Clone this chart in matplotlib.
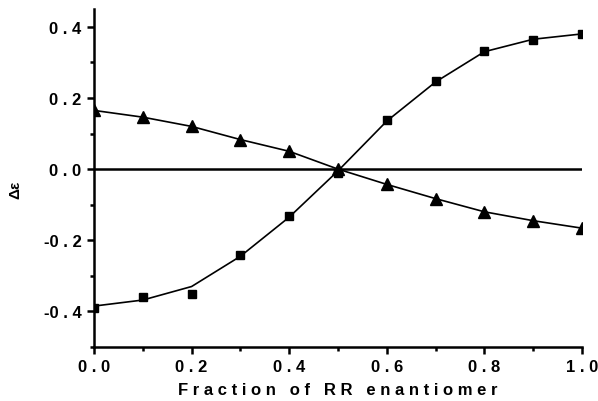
import matplotlib
matplotlib.use("Agg")
import matplotlib.pyplot as plt
from matplotlib.ticker import MultipleLocator, FixedLocator

x = [0.0, 0.1, 0.2, 0.3, 0.4, 0.5, 0.6, 0.7, 0.8, 0.9, 1.0]
squares = [-0.39, -0.36, -0.35, -0.242, -0.132, -0.011, 0.138, 0.247, 0.332, 0.363, 0.38]
square_fit = [-0.385, -0.368, -0.33, -0.245, -0.135, -0.005, 0.135, 0.245, 0.33, 0.365, 0.38]
triangles = [0.165, 0.146, 0.12, 0.083, 0.05, 0.0, -0.043, -0.083, -0.12, -0.145, -0.166]
xticks = [0.0, 0.2, 0.4, 0.6, 0.8, 1.0]
yticks = [-0.4, -0.2, 0.0, 0.2, 0.4]

def spaced(s, sep=" "):
    return sep.join(s)

def tick_text(v):
    s = f"{abs(v):.1f}"
    return ("-" if v < 0 else "") + spaced(s)

plt.rcParams['font.family'] = ['Liberation Sans', 'DejaVu Sans']
fig = plt.figure(figsize=(5.98, 4.02), dpi=100)
ax = fig.add_axes([94/598, 1-348/402, (582-94)/598, (348-10)/402])

ax.axhline(0.0, xmin=0, xmax=1, color='black', lw=1.8)
ax.plot(x, square_fit, color='black', lw=1.2)
ax.plot(x, squares, linestyle='none', marker='s', markersize=6, color='black')
ax.plot(x, triangles, color='black', lw=1.2, marker='^', markersize=8)

ax.set_xlim(0.0, 1.0)
ax.set_ylim(-0.5, 0.45)
for s in ['top', 'right']:
    ax.spines[s].set_visible(False)
for s in ['left', 'bottom']:
    ax.spines[s].set_linewidth(1.8)

ax.set_xticks(xticks)
ax.set_xticklabels([tick_text(v) for v in xticks], fontsize=12, fontweight='bold')
ax.set_yticks(yticks)
ax.set_yticklabels([tick_text(v) for v in yticks], fontsize=12, fontweight='bold')
ax.xaxis.set_minor_locator(MultipleLocator(0.1))
ax.yaxis.set_minor_locator(FixedLocator([-0.5, -0.3, -0.1, 0.1, 0.3]))
ax.tick_params(axis='both', which='major', direction='out', length=5, width=1.8, pad=4)
ax.tick_params(axis='both', which='minor', direction='out', length=3, width=1.8)

label = "   ".join(spaced(w) for w in "Fraction of RR enantiomer".split())
ax.set_xlabel(label, fontsize=12, fontweight='bold')
ax.xaxis.set_label_coords(0.5, -(391 - 348) / 338, transform=ax.transAxes)
ax.xaxis.label.set_va('center')
ax.set_ylabel("Δε", fontsize=11, fontweight='bold')
ax.yaxis.set_label_coords((15 - 94) / 488, (348 - 190) / 338)
ax.yaxis.label.set_va('center')

fig.savefig("out.png", dpi=100)
